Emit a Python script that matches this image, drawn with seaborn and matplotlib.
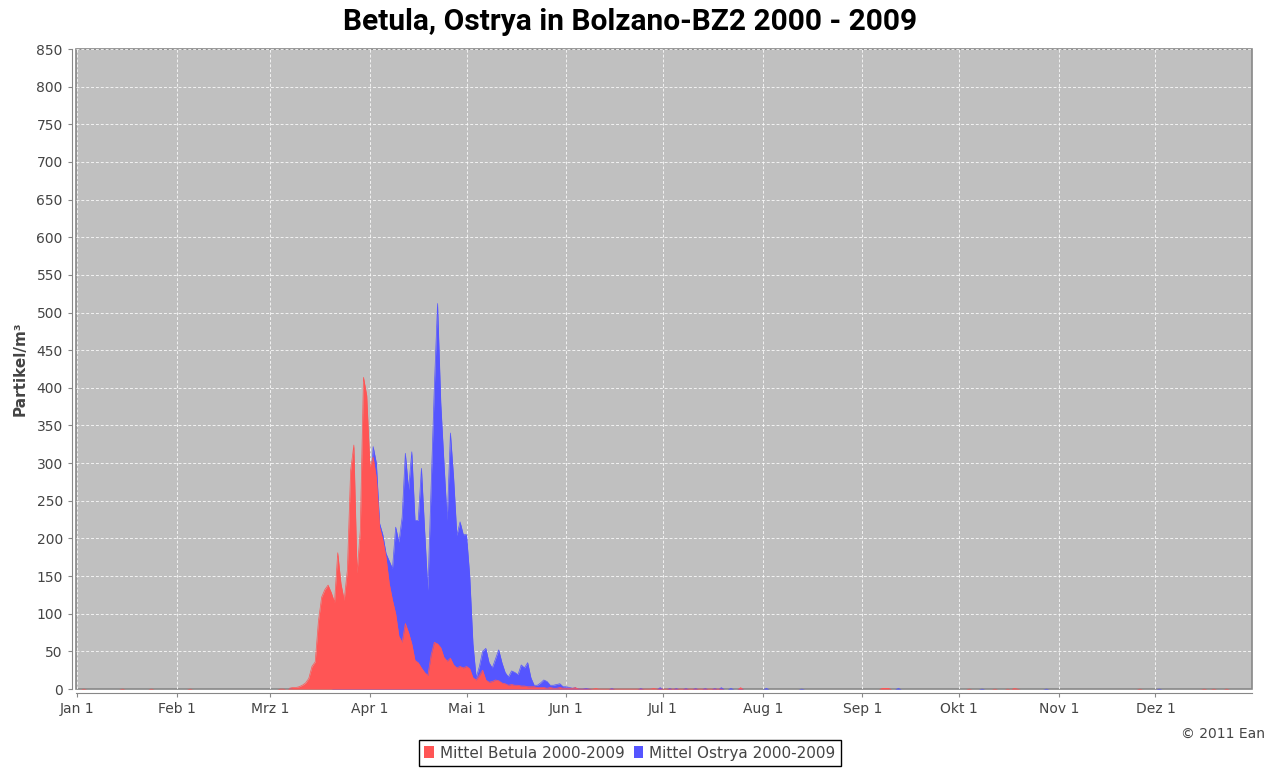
import numpy as np
import pandas as pd
import matplotlib
matplotlib.use("Agg")
import matplotlib.pyplot as plt
import seaborn as sns
from matplotlib.patches import Patch

# x axis: day of year (leap year layout), ticks at month starts
month_ticks = [0, 31, 60, 91, 121, 152, 182, 213, 244, 274, 305, 335]
month_labels = ["Jan 1", "Feb 1", "Mrz 1", "Apr 1", "Mai 1", "Jun 1",
                "Jul 1", "Aug 1", "Sep 1", "Okt 1", "Nov 1", "Dez 1"]

# Mittel Betula, daily values from day 63 on
betula_start = 63
betula_values = [1, 1, 0, 1, 2, 2, 3, 5, 8, 14,          # 63-72
                 30, 36, 90, 122, 132, 138, 128, 115, 181, 140,   # 73-82
                 118, 158, 290, 324, 154, 210, 414, 390, 295, 308,  # 83-92
                 280, 215, 198, 175, 140, 118, 100, 70, 62, 87,     # 93-102
                 75, 60, 38, 35, 28, 22, 18, 45, 62, 60,            # 103-112
                 55, 42, 37, 41, 32, 28, 30, 28, 30, 27,            # 113-122
                 15, 12, 18, 25, 12, 9, 10, 12, 11, 8,              # 123-132
                 7, 5, 6, 5, 5, 4, 4, 3, 3, 3,                      # 133-142
                 2, 2, 2, 1, 2, 1, 1, 2, 1, 1,                      # 143-152
                 1, 1, 2, 1, 1, 1, 1, 1, 2, 1,                      # 153-162
                 1, 1, 1, 1, 1, 1, 1, 1, 1, 1,                      # 163-172
                 1, 1, 1, 1, 1, 1, 2, 1, 1, 1,                      # 173-182
                 1, 1, 1, 1, 1, 1, 1, 1, 1, 1,                      # 183-192
                 1, 1, 1, 1, 1, 1, 1, 1]                            # 193-200
betula_blip_days = [2, 14, 23, 35, 206, 250, 251, 252, 277, 285, 289, 291, 292, 330, 350, 353, 357]
betula_blip_values = [1, 1, 1, 1, 3, 2, 2, 2, 1, 1, 1, 2, 1, 1, 1, 1, 1]

# Mittel Ostrya, daily values from day 80 on
ostrya_start = 80
ostrya_values = [2, 3, 4, 5, 8, 10, 15, 20, 40, 80,     # 80-89
                 150, 250, 322, 300, 220, 205, 180, 170, 160, 215,  # 90-99
                 195, 228, 313, 265, 315, 224, 224, 293, 210, 131,  # 100-109
                 268, 400, 512, 380, 300, 224, 340, 280, 204, 222,  # 110-119
                 205, 205, 150, 60, 15, 30, 50, 54, 35, 28,         # 120-129
                 40, 52, 35, 22, 16, 24, 22, 19, 32, 28,            # 130-139
                 35, 15, 5, 5, 8, 12, 10, 5, 5, 6,                  # 140-149
                 7, 3, 3, 2, 1, 2, 1, 1, 2, 1]                      # 150-159
ostrya_blip_days = [166, 175, 181, 184, 186, 189, 192, 195, 198, 200, 203, 206, 214, 225, 255, 281, 301, 336]
ostrya_blip_values = [2, 2, 3, 2, 2, 2, 2, 2, 2, 3, 2, 2, 2, 1, 2, 1, 1, 1]

series_names = ["Mittel Betula 2000-2009", "Mittel Ostrya 2000-2009"]
series_colors = ["#FF5555", "#5555FF"]

days = np.arange(366)
betula = np.zeros(366)
betula[betula_start:betula_start + len(betula_values)] = betula_values
betula[betula_blip_days] = betula_blip_values
ostrya = np.zeros(366)
ostrya[ostrya_start:ostrya_start + len(ostrya_values)] = ostrya_values
ostrya[ostrya_blip_days] = ostrya_blip_values

df = pd.DataFrame({"day": days, series_names[0]: betula, series_names[1]: ostrya})
# outline only over the pollen season, so no coloured line runs along zero
season = df[(df["day"] >= 66) & (df["day"] <= 155)]
long_df = season.melt(id_vars="day", var_name="serie", value_name="wert")

sns.set_style("whitegrid", {"axes.facecolor": "#C0C0C0",
                            "grid.color": "white",
                            "grid.linestyle": (0, (3, 2)),
                            "axes.edgecolor": "#888888"})

fig, ax = plt.subplots(figsize=(12.75, 7.72), dpi=100)
fig.subplots_adjust(left=0.0596, right=0.982, top=0.9365, bottom=0.1075)

# blue behind, red on top
sns.lineplot(data=long_df, x="day", y="wert", hue="serie",
             hue_order=series_names[::-1], palette=series_colors[::-1],
             linewidth=0.5, legend=False, ax=ax)
ax.fill_between(df["day"], df[series_names[1]], color=series_colors[1], lw=0, zorder=2)
ax.fill_between(df["day"], df[series_names[0]], color=series_colors[0], lw=0, zorder=3)
for ln in ax.lines:
    ln.set_zorder(2.5 if ln.get_color() == series_colors[1] else 3.5)

ax.set_xlim(-0.3, 365)
ax.set_ylim(0, 850)
ax.set_xticks(month_ticks)
ax.set_xticklabels(month_labels)
ax.set_yticks(np.arange(0, 851, 50))
ax.grid(True, color="white", linestyle=(0, (3, 2)), linewidth=0.7, alpha=0.8)
ax.set_axisbelow(True)

ax.tick_params(axis="both", labelsize=10, labelcolor="#444444", colors="#888888",
               length=3, width=0.8, direction="out", bottom=True, left=True)
for side in ["left", "bottom"]:
    ax.spines[side].set_position(("outward", 3))
    ax.spines[side].set_color("#888888")
for side in ["top", "right"]:
    ax.spines[side].set_visible(False)
ax.patch.set_edgecolor("#888888")
ax.patch.set_linewidth(1.2)

ax.set_xlabel("")
ax.set_ylabel("Partikel/m³", fontsize=11, fontweight="bold", color="#444444", labelpad=6)
fig.suptitle("Betula, Ostrya in Bolzano-BZ2 2000 - 2009", x=0.494, y=0.972, va="center",
             fontsize=21.5, fontweight="bold", color="black",
             family=["Roboto", "DejaVu Sans"])

fig.text(0.992, 0.05, "© 2011 Ean", ha="right", va="center", fontsize=10, color="#444444")

handles = [Patch(facecolor=c, edgecolor="none") for c in series_colors]
leg = fig.legend(handles, series_names, loc="lower center", bbox_to_anchor=(0.494, -0.002),
                 ncol=2, fontsize=11, frameon=True, fancybox=False, handlelength=0.6,
                 handleheight=0.8, handletextpad=0.4, columnspacing=0.6,
                 borderpad=0.35, edgecolor="black", facecolor="white", framealpha=1)
leg.get_frame().set_linewidth(1.0)
for t in leg.get_texts():
    t.set_color("#444444")

fig.savefig("out.png", dpi=100)
